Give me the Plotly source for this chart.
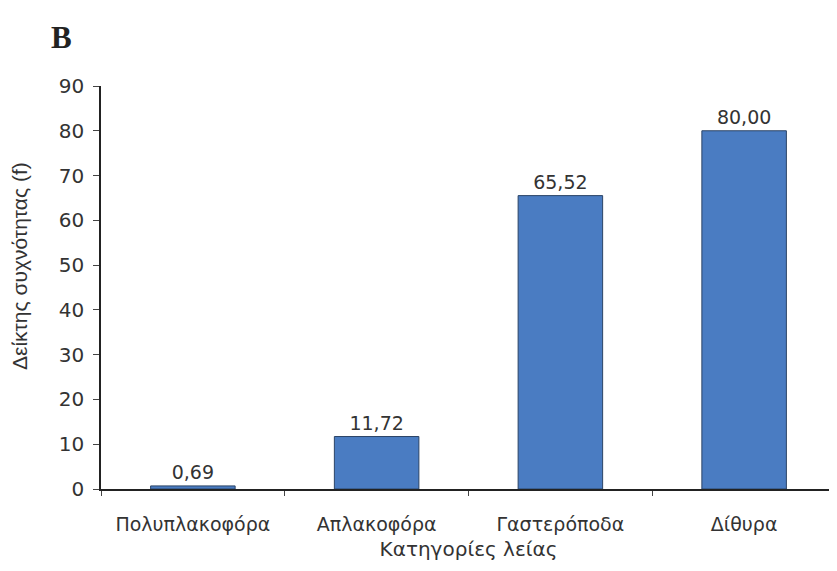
import plotly.graph_objects as go

categories = ["Πολυπλακοφόρα", "Απλακοφόρα", "Γαστερόποδα", "Δίθυρα"]
values = [0.69, 11.72, 65.52, 80.00]
y_ticks = [0, 10, 20, 30, 40, 50, 60, 70, 80, 90]

# page body has an 8px margin; compensate so the plot lands where the reference has it
OFF = 8
L, R, T, B = 101 - OFF, 1, 86 - OFF, 82
W, H = 837 - OFF, 571 - OFF
pw, ph = W - L - R, H - T - B


def px_x(x):
    return (x - OFF - L) / pw


def px_y(y):
    return 1 - (y - OFF - T) / ph


fig = go.Figure(go.Bar(
    x=categories, y=values,
    marker=dict(color="#4a7cc2", line=dict(color="#2b4466", width=1)),
    width=0.46,
    texttemplate="%{y:.2f}", textposition="outside",
    textfont=dict(family="DejaVu Sans", size=19, color="#333333"),
    cliponaxis=False,
))

fig.update_layout(
    width=W, height=H,
    margin=dict(l=L, r=R, t=T, b=B, autoexpand=False),
    paper_bgcolor="white", plot_bgcolor="white",
    separators=",.",
    showlegend=False,
    font=dict(family="DejaVu Sans", color="#333333"),
    annotations=[
        dict(text="<b>B</b>", xref="paper", yref="paper",
             x=px_x(49), y=px_y(38),
             xanchor="left", yanchor="middle", showarrow=False,
             font=dict(family="Liberation Serif, Times New Roman", size=31, color="#222222")),
        dict(text="Δείκτης συχνότητας (f)", xref="paper", yref="paper",
             x=px_x(19), y=px_y(266), textangle=-90,
             xanchor="center", yanchor="middle", showarrow=False,
             font=dict(family="Liberation Sans, Arial", size=21, color="#333333")),
    ],
)

fig.update_xaxes(
    showline=True, linecolor="#222222", linewidth=1.5,
    ticks="outside", tickson="boundaries", ticklen=5, tickcolor="#444444",
    tickfont=dict(family="DejaVu Sans", size=19, color="#333333"),
    ticklabelstandoff=17,
    title=dict(text="Κατηγορίες λείας", font=dict(family="DejaVu Sans", size=20, color="#333333"), standoff=8),
    showgrid=False,
)
fig.update_yaxes(
    range=[0, 90], tickvals=y_ticks,
    showline=True, linecolor="#222222", linewidth=1.5,
    ticks="outside", ticklen=6, tickcolor="#444444",
    tickfont=dict(family="DejaVu Sans", size=20, color="#333333"),
    ticklabelstandoff=5,
    showgrid=False, zeroline=False,
)

fig.write_html("out.html")
